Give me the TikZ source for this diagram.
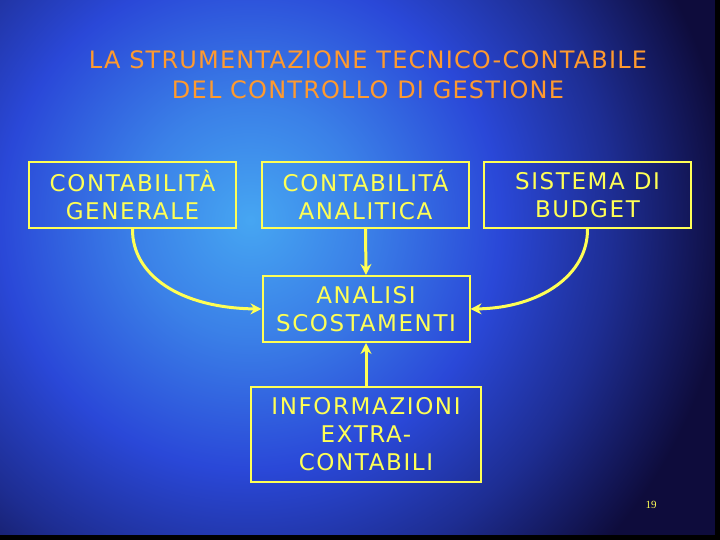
\documentclass[tikz,border=0pt]{standalone}
\usepackage{fontspec}
\setmainfont{DejaVu Sans}
\newfontfamily\numfont{Liberation Serif}
\usetikzlibrary{arrows.meta}
\definecolor{boxyellow}{HTML}{FFFF55}
\definecolor{titleorange}{HTML}{FF9A2E}
\definecolor{bgdark}{HTML}{0E0C3C}
\definecolor{bgmid}{HTML}{2A48D8}
\definecolor{bglight}{HTML}{46A6F2}
\pgfdeclareradialshading{bgshade}{\pgfpoint{0bp}{0bp}}{color(0bp)=(bglight); color(6bp)=(bglight!60!bgmid); color(13bp)=(bgmid); color(19bp)=(bgmid!55!bgdark); color(25bp)=(bgdark); color(50bp)=(bgdark)}
\tikzset{
  box/.style={draw=boxyellow, line width=2pt, minimum width=207pt, align=center,
    text=boxyellow, font=\fontsize{23}{28}\selectfont\addfontfeatures{LetterSpace=7}, inner sep=0pt},
  conn/.style={draw=boxyellow, line width=3pt, -{Stealth[length=11pt,width=11pt]}},
  ttl/.style={text=titleorange, font=\fontsize{24}{30}\selectfont\addfontfeatures{LetterSpace=5}, align=center}
}
\begin{document}
\begin{tikzpicture}[x=1pt,y=-1pt]
\useasboundingbox (0,0) rectangle (720,540);
\fill[bgdark] (0,0) rectangle (720,540);
\shade[shading=bgshade] (-230,-260) rectangle (730,700);
\fill[black] (0,535) rectangle (720,540);
\fill[black] (715,0) rectangle (720,540);
% title
\node[ttl] (title) at (368,75) {LA STRUMENTAZIONE TECNICO-CONTABILE\\DEL CONTROLLO DI GESTIONE};
% boxes
\node[box, minimum height=66pt] (cg) at (132.5,195) {CONTABILIT\`A\\GENERALE};
\node[box, minimum height=66pt] (ca) at (365.5,195) {CONTABILIT\'A\\ANALITICA};
\node[box, minimum height=66pt] (sb) at (587.5,195) {SISTEMA DI\\BUDGET};
\node[box, minimum height=66pt] (as) at (366,309) {ANALISI\\SCOSTAMENTI};
\node[box, minimum width=230pt, minimum height=95pt] (ie) at (366,434.5) {INFORMAZIONI\\EXTRA-\\CONTABILI};
% connectors
\draw[conn] (cg.south) .. controls (132,275) and (180,308) .. (as.west);
\draw[conn] (sb.south) .. controls (588,275) and (540,308) .. (as.east);
\draw[conn] (ca.south) -- (as.north);
\draw[conn] (ie.north) -- (as.south);
\node[text=boxyellow, font=\numfont\fontsize{11}{13}\selectfont] (pg) at (651,505) {19};
\end{tikzpicture}
\end{document}
